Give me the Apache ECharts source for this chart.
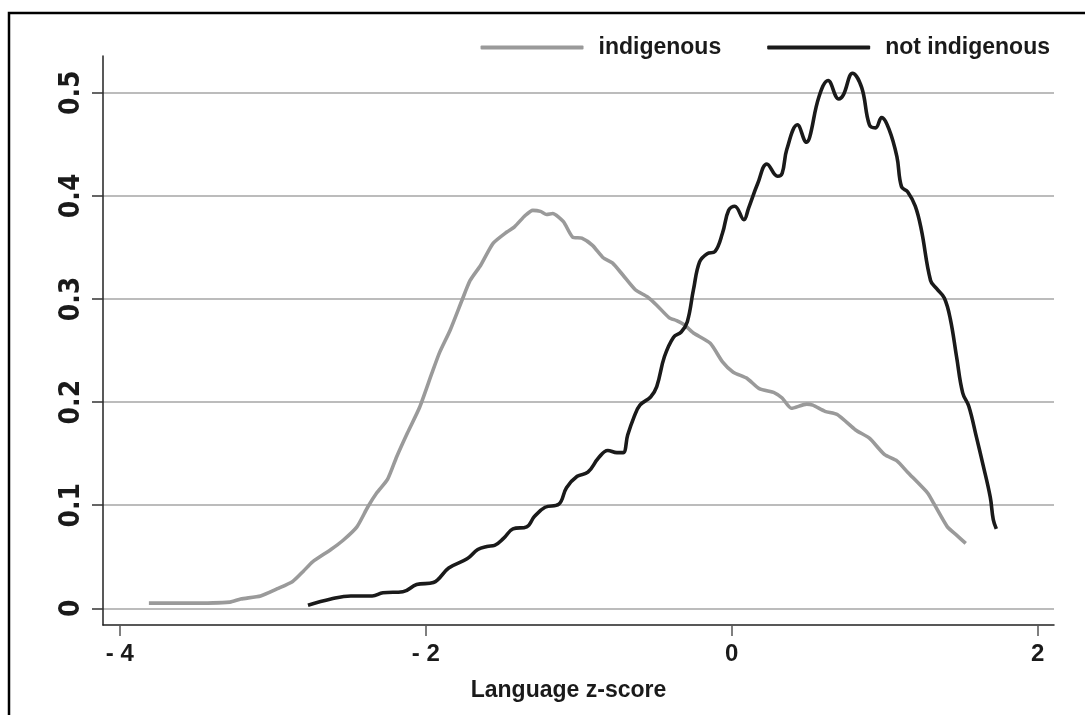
<!DOCTYPE html>
<html>
<head>
<meta charset="utf-8">
<script src="https://cdn.jsdelivr.net/npm/echarts@6/dist/echarts.min.js"></script>
<style>
html,body{margin:0;padding:0;background:#fff;}
#chart{width:1085px;height:715px;}
</style>
</head>
<body>
<div id="chart"></div>
<script>
// ---- data ----
var xTicks = [-4, -2, 0, 2];
var yTicks = [0, 0.1, 0.2, 0.3, 0.4, 0.5];
var seriesNames = ['indigenous', 'not indigenous'];
var xTitle = 'Language z-score';

var indigenousX = [-3.81,-3.55,-3.28,-3.21,-3.08,-2.97,-2.87,-2.80,-2.74,-2.62,-2.54,-2.45,-2.38,-2.32,-2.25,-2.19,-2.12,-2.04,-1.96,-1.91,-1.84,-1.76,-1.71,-1.64,-1.56,-1.47,-1.42,-1.35,-1.30,-1.25,-1.21,-1.17,-1.10,-1.04,-0.98,-0.91,-0.84,-0.78,-0.71,-0.63,-0.55,-0.49,-0.41,-0.36,-0.31,-0.25,-0.14,-0.06,0.01,0.10,0.18,0.28,0.33,0.39,0.49,0.53,0.61,0.69,0.81,0.90,1.00,1.08,1.15,1.28,1.32,1.41,1.47,1.53];
var indigenousY = [0.005,0.005,0.006,0.009,0.012,0.019,0.026,0.036,0.045,0.057,0.066,0.079,0.098,0.112,0.125,0.147,0.170,0.195,0.228,0.248,0.270,0.300,0.318,0.333,0.354,0.365,0.370,0.381,0.386,0.385,0.382,0.383,0.375,0.360,0.359,0.352,0.340,0.335,0.323,0.309,0.302,0.294,0.282,0.279,0.275,0.267,0.257,0.239,0.229,0.223,0.213,0.209,0.204,0.194,0.198,0.197,0.191,0.188,0.173,0.165,0.149,0.143,0.132,0.112,0.102,0.079,0.071,0.063];

var notIndigenousX = [-2.77,-2.62,-2.49,-2.35,-2.28,-2.15,-2.06,-1.95,-1.85,-1.73,-1.66,-1.60,-1.55,-1.49,-1.43,-1.34,-1.29,-1.22,-1.13,-1.08,-1.01,-0.94,-0.87,-0.81,-0.75,-0.71,-0.68,-0.64,-0.60,-0.53,-0.49,-0.44,-0.38,-0.33,-0.29,-0.25,-0.21,-0.16,-0.11,-0.06,-0.02,0.02,0.08,0.11,0.17,0.23,0.30,0.33,0.36,0.43,0.49,0.51,0.57,0.63,0.70,0.73,0.79,0.85,0.90,0.94,0.98,1.03,1.08,1.11,1.15,1.20,1.24,1.30,1.34,1.39,1.43,1.47,1.51,1.55,1.60,1.64,1.69,1.71,1.73];
var notIndigenousY = [0.003,0.009,0.012,0.012,0.015,0.016,0.023,0.025,0.039,0.048,0.057,0.060,0.061,0.068,0.077,0.079,0.089,0.098,0.101,0.117,0.128,0.132,0.146,0.153,0.151,0.151,0.168,0.185,0.197,0.205,0.215,0.244,0.263,0.268,0.278,0.309,0.336,0.344,0.346,0.364,0.386,0.390,0.377,0.388,0.412,0.431,0.419,0.422,0.445,0.469,0.452,0.457,0.496,0.512,0.494,0.498,0.519,0.505,0.469,0.466,0.476,0.464,0.438,0.409,0.404,0.390,0.367,0.318,0.310,0.301,0.280,0.244,0.209,0.196,0.166,0.141,0.108,0.086,0.077];

function zip(xs, ys){ return xs.map(function(x,i){ return [x, ys[i]]; }); }

var wideFont = '"Liberation Sans", Arial, sans-serif';
var narrowFont = '"Liberation Sans Narrow", "DejaVu Sans Condensed", "Liberation Sans", sans-serif';

var chart = echarts.init(document.getElementById('chart'), null, {renderer:'canvas'});
chart.setOption({
  animation: false,
  backgroundColor: '#fff',
  graphic: [{
    type: 'rect',
    shape: {x: 9, y: 13, width: 1200, height: 900},
    style: {fill: 'none', stroke: '#000', lineWidth: 2.5},
    silent: true, z: 0
  }],
  grid: {left: 103, right: 31, top: 56, bottom: 90, containLabel: false},
  legend: {
    show: true,
    right: 30, top: 31,
    icon: 'roundRect',
    itemWidth: 103, itemHeight: 4, itemGap: 46,
    data: seriesNames,
    textStyle: {fontFamily: wideFont, fontWeight: 'bold', fontSize: 23, color: '#1a1a1a', padding: [0,0,0,10]}
  },
  xAxis: {
    type: 'value', min: -4.11, max: 2.107,
    name: xTitle, nameLocation: 'middle', nameGap: 54,
    nameTextStyle: {fontFamily: wideFont, fontWeight: 'bold', fontSize: 23, color: '#1a1a1a', padding: [0,20,0,0]},
    axisLine: {show: true, onZero: false, lineStyle: {color: '#222', width: 1.5}},
    axisTick: {show: true, customValues: xTicks, length: 11, inside: false, lineStyle: {color: '#555', width: 1.5}},
    axisLabel: {customValues: xTicks, margin: 17, fontFamily: wideFont, fontWeight: 'bold', fontSize: 24, color: '#1a1a1a',
      formatter: function(v){ return v < 0 ? '- ' + Math.abs(v) : String(v); }},
    splitLine: {show: false}
  },
  yAxis: {
    type: 'value', min: -0.0162, max: 0.5357,
    axisLine: {show: true, onZero: false, lineStyle: {color: '#222', width: 1.5}},
    axisTick: {show: true, customValues: yTicks, length: 11, inside: false, lineStyle: {color: '#333', width: 1.5}},
    axisLabel: {customValues: yTicks, rotate: 90, margin: 17, fontFamily: narrowFont, fontWeight: 'bold', fontSize: 28, color: '#1a1a1a',
      formatter: function(v){ return String(v); }},
    splitLine: {show: true, lineStyle: {color: '#a6a6a6', width: 1.5}}
  },
  series: [{
    name: seriesNames[0], type: 'line', data: zip(indigenousX, indigenousY),
    showSymbol: false, symbol: 'none', smooth: 0.2,
    lineStyle: {color: '#9a9a9a', width: 3.6}, itemStyle: {color: '#9a9a9a'}, z: 3
  },{
    name: seriesNames[1], type: 'line', data: zip(notIndigenousX, notIndigenousY),
    showSymbol: false, symbol: 'none', smooth: 0.4,
    lineStyle: {color: '#1a1a1a', width: 3.6}, itemStyle: {color: '#1a1a1a'}, z: 4
  }]
});
</script>
</body>
</html>
